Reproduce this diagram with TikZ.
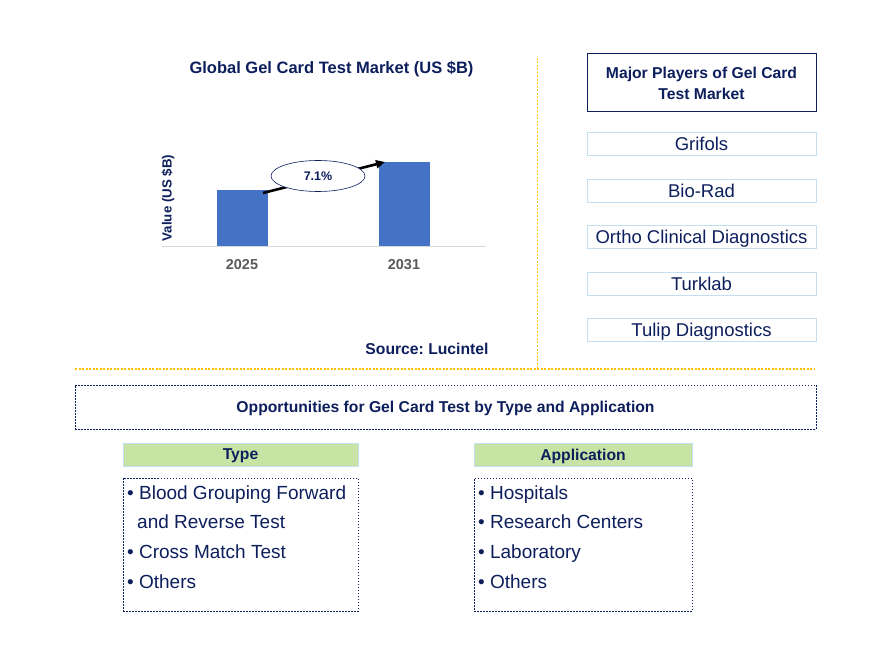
\documentclass[tikz,border=0pt]{standalone}
\usepackage{fontspec}
\setmainfont{Liberation Sans}
\usetikzlibrary{arrows.meta,shapes.geometric}
\definecolor{navy}{HTML}{0D1E5C}
\definecolor{barblue}{HTML}{4472C4}
\definecolor{gold}{HTML}{FFC000}
\definecolor{lightblue}{HTML}{C5DFF2}
\definecolor{lightgreen}{HTML}{C7E4A5}
\frenchspacing

\begin{document}
\begin{tikzpicture}[x=1pt,y=-1pt]
\tikzstyle{headstyle}=[text=navy, font=\fontsize{15.7}{18}\selectfont\bfseries]
\tikzstyle{playerstyle}=[draw=lightblue, line width=1pt, minimum width=229pt, minimum height=23pt, inner sep=0pt, text depth=1pt, text=navy, font=\fontsize{18.5}{20}\selectfont]
\tikzstyle{dotbox}=[draw=navy, line width=0.8pt, dash pattern=on 1.5pt off 1.5pt]
\tikzstyle{itemstyle}=[anchor=base west, inner sep=0pt, text=navy, font=\fontsize{19}{20}\selectfont]
\tikzstyle{greenhead}=[draw=lightblue, line width=1pt, fill=lightgreen, minimum height=23pt, inner sep=0pt, text depth=0pt]
\tikzstyle{bar}=[fill=barblue, draw=none]
    \useasboundingbox (0,0) rectangle (881,652);
    % dividers
    \coordinate (vtop) at (537,58);
    \coordinate (vbot) at (537,368);
    \coordinate (hleft) at (75,369);
    \coordinate (hright) at (815,369);
    \draw [gold, line width=0.8pt, dash pattern=on 2pt off 1.5pt] (vtop) -- (vbot);
    \draw [gold, line width=1.2pt, dash pattern=on 2pt off 1.5pt] (hleft) -- (hright);
    % chart
    \node[headstyle, font=\fontsize{16.5}{18}\selectfont\bfseries, text depth=0pt] (title) at (331.5,67.5) {Global Gel Card Test Market (US \$B)};
    \coordinate (axl) at (162,247);
    \coordinate (axr) at (486,247);
    \fill[bar] (217,190) rectangle (268,247);
    \fill[bar] (379,162) rectangle (430,247);
    \draw [black!15, line width=1pt] (axl) -- (axr);
    \node[text=black!65, font=\fontsize{14.4}{16}\selectfont\bfseries] (y1) at (242,264.5) {2025};
    \node[text=black!65, font=\fontsize{14.4}{16}\selectfont\bfseries] (y2) at (404,264.5) {2031};
    \node[headstyle, font=\fontsize{13.3}{15}\selectfont\bfseries, rotate=90] (ylab) at (168,198) {Value (US \$B)};
    \coordinate (g1) at (263,193);
    \coordinate (g2) at (385,162);
    \draw [line width=2.6pt, -{Triangle[length=9pt,width=8pt]}] (g1) -- (g2);
    \node[draw=navy, line width=0.6pt, fill=white, ellipse, minimum width=94pt, minimum height=31pt, inner sep=0pt, text=navy, font=\fontsize{12.5}{14}\selectfont\bfseries] (cagr) at (318,176) {7.1\%};
    \node[headstyle, anchor=east] (src) at (492,348.5) {Source: Lucintel};
    % players
    \node[headstyle, draw=navy, line width=1pt, minimum width=229pt, minimum height=58pt, align=center, font=\fontsize{15.7}{21}\selectfont\bfseries] (major) at (701.5,83) {Major Players of Gel Card\\Test Market};
    \node[playerstyle] (p1) at (701.5,144) {Grifols};
    \node[playerstyle] (p2) at (701.5,191.5) {Bio-Rad};
    \node[playerstyle] (p3) at (701.5,237.5) {Ortho Clinical Diagnostics};
    \node[playerstyle] (p4) at (701.5,284) {Turklab};
    \node[playerstyle] (p5) at (701.5,330.5) {Tulip Diagnostics};
    % opportunities
    \node[dotbox, headstyle, minimum width=741pt, minimum height=44pt, text depth=0pt] (opp) at (445.5,407) {Opportunities for Gel Card Test by Type and Application};
    \node[greenhead, headstyle, minimum width=235pt] (type) at (240.5,454.5) {Type};
    \node[greenhead, headstyle, minimum width=218pt] (app) at (583,454.5) {Application};
    \node[dotbox, minimum width=235pt, minimum height=133pt] (typebox) at (240.5,544.5) {};
    \node[dotbox, minimum width=218pt, minimum height=133pt] (appbox) at (583,544.5) {};
    \node[itemstyle] (t1) at (127,499) {• Blood Grouping Forward};
    \node[itemstyle] (t2) at (137,528.5) {and Reverse Test};
    \node[itemstyle] (t3) at (127,558) {• Cross Match Test};
    \node[itemstyle] (t4) at (127,588) {• Others};
    \node[itemstyle] (a1) at (478,499) {• Hospitals};
    \node[itemstyle] (a2) at (478,528.5) {• Research Centers};
    \node[itemstyle] (a3) at (478,558) {• Laboratory};
    \node[itemstyle] (a4) at (478,588) {• Others};
\end{tikzpicture}
\end{document}
